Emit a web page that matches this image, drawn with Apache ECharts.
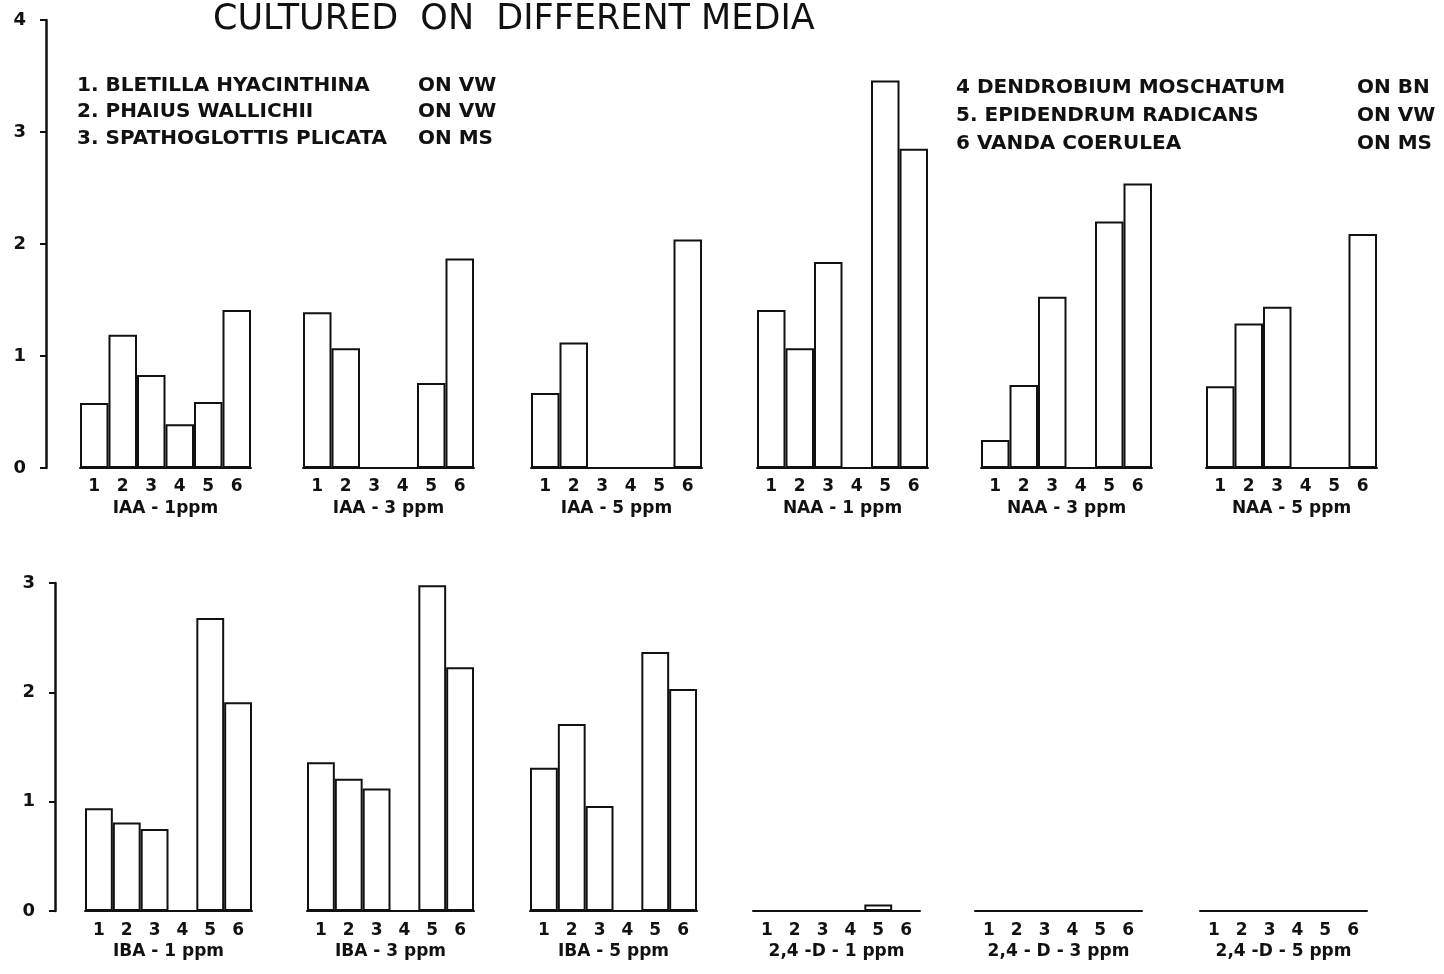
<!DOCTYPE html>
<html>
<head>
<meta charset="utf-8">
<script src="https://cdn.jsdelivr.net/npm/echarts@6/dist/echarts.min.js"></script>
<style>
  html, body { margin: 0; padding: 0; background: #fff; }
  #main { width: 1444px; height: 974px; }
</style>
</head>
<body>
<div id="main"></div>
<script>
// species numbers on every x axis
var speciesNums = ['1', '2', '3', '4', '5', '6']
var topTicks = [0, 1, 2, 3, 4]
var bottomTicks = [0, 1, 2, 3]

// legend (species / medium)
var speciesLeft = ['1. BLETILLA HYACINTHINA', '2. PHAIUS WALLICHII', '3. SPATHOGLOTTIS PLICATA']
var mediaLeft = ['ON VW', 'ON VW', 'ON MS']
var speciesRight = ['4 DENDROBIUM MOSCHATUM', '5. EPIDENDRUM RADICANS', '6 VANDA COERULEA']
var mediaRight = ['ON BN', 'ON VW', 'ON MS']

// top row
var topNames = ['IAA - 1ppm', 'IAA - 3 ppm', 'IAA - 5 ppm', 'NAA - 1 ppm', 'NAA - 3 ppm', 'NAA - 5 ppm']
var iaa1 = [0.58, 1.19, 0.83, 0.39, 0.59, 1.41]
var iaa3 = [1.39, 1.07, 0, 0, 0.76, 1.87]
var iaa5 = [0.67, 1.12, 0, 0, 0, 2.04]
var naa1 = [1.41, 1.07, 1.84, 0, 3.46, 2.85]
var naa3 = [0.25, 0.74, 1.53, 0, 2.2, 2.54]
var naa5 = [0.73, 1.29, 1.44, 0, 0, 2.09]

// bottom row
var bottomNames = ['IBA - 1 ppm', 'IBA - 3 ppm', 'IBA - 5 ppm', '2,4 -D - 1 ppm', '2,4 - D - 3 ppm', '2,4 -D - 5 ppm']
var iba1 = [0.94, 0.81, 0.75, 0, 2.68, 1.91]
var iba3 = [1.36, 1.21, 1.12, 0, 2.98, 2.23]
var iba5 = [1.31, 1.71, 0.96, 0, 2.37, 2.03]
var d1 = [0, 0, 0, 0, 0.06, 0]
var d3 = [0, 0, 0, 0, 0, 0]
var d5 = [0, 0, 0, 0, 0, 0]

var topData = [iaa1, iaa3, iaa5, naa1, naa3, naa5]
var bottomData = [iba1, iba3, iba5, d1, d3, d5]

// layout
var topLeft = [80, 303, 531, 757, 981, 1206]
var bottomLeft = [85, 307, 530, 753, 975, 1200]
var font = 'DejaVu Sans'

var myChart = echarts.init(document.getElementById('main'))

var grid = []
var xAxis = []
var yAxis = []
var series = []

function addPanel(left, width, top, height, name, data, ticks, showY, yOffset, labelGap) {
  var i = grid.length
  grid.push({ left: left, top: top, width: width, height: height })
  xAxis.push({
    type: 'category',
    gridIndex: i,
    data: speciesNums,
    name: name,
    nameLocation: 'middle',
    nameGap: 32,
    nameTextStyle: { color: '#111', fontSize: 17, fontWeight: 'bold', fontFamily: font },
    axisLine: { lineStyle: { color: '#111', width: 2 } },
    axisTick: { show: false },
    axisLabel: { color: '#111', fontSize: 17, fontWeight: 'bold', fontFamily: font, margin: labelGap }
  })
  yAxis.push({
    type: 'value',
    gridIndex: i,
    min: 0,
    max: ticks[ticks.length - 1],
    interval: 1,
    show: showY,
    offset: yOffset,
    splitLine: { show: false },
    axisLine: { show: true, lineStyle: { color: '#111', width: 2.5 } },
    axisTick: { show: true, length: 6, lineStyle: { color: '#111', width: 2 } },
    axisLabel: { color: '#111', fontSize: 18, fontWeight: 'bold', fontFamily: font, margin: 20 }
  })
  series.push({
    type: 'bar',
    xAxisIndex: i,
    yAxisIndex: i,
    data: data,
    barCategoryGap: '0%',
    silent: true,
    itemStyle: { color: '#fff', borderColor: '#111', borderWidth: 2 }
  })
}

topData.forEach(function (d, k) {
  addPanel(topLeft[k], 171, 20, 448, topNames[k], d, topTicks, k === 0, 34, 10)
})
bottomData.forEach(function (d, k) {
  addPanel(bottomLeft[k], 167, 583, 328, bottomNames[k], d, bottomTicks, k === 0, 30, 11)
})

var graphic = [{
  type: 'text',
  x: 213,
  y: 20,
  style: { text: 'CULTURED  ON  DIFFERENT MEDIA', fill: '#111', font: 'normal 35px "DejaVu Sans"', textVerticalAlign: 'middle' }
}]
var legendY = [[86, 112, 139], [88, 116, 144]]
var legendFont = 'bold 20px "DejaVu Sans"'
speciesLeft.forEach(function (s, k) {
  graphic.push({ type: 'text', x: 77, y: legendY[0][k], style: { text: s, fill: '#111', font: legendFont, textVerticalAlign: 'middle' } })
  graphic.push({ type: 'text', x: 418, y: legendY[0][k], style: { text: mediaLeft[k], fill: '#111', font: legendFont, textVerticalAlign: 'middle' } })
})
speciesRight.forEach(function (s, k) {
  graphic.push({ type: 'text', x: 956, y: legendY[1][k], style: { text: s, fill: '#111', font: legendFont, textVerticalAlign: 'middle' } })
  graphic.push({ type: 'text', x: 1357, y: legendY[1][k], style: { text: mediaRight[k], fill: '#111', font: legendFont, textVerticalAlign: 'middle' } })
})

myChart.setOption({
  backgroundColor: '#fff',
  animation: false,
  grid: grid,
  xAxis: xAxis,
  yAxis: yAxis,
  series: series,
  graphic: graphic
})
</script>
</body>
</html>
